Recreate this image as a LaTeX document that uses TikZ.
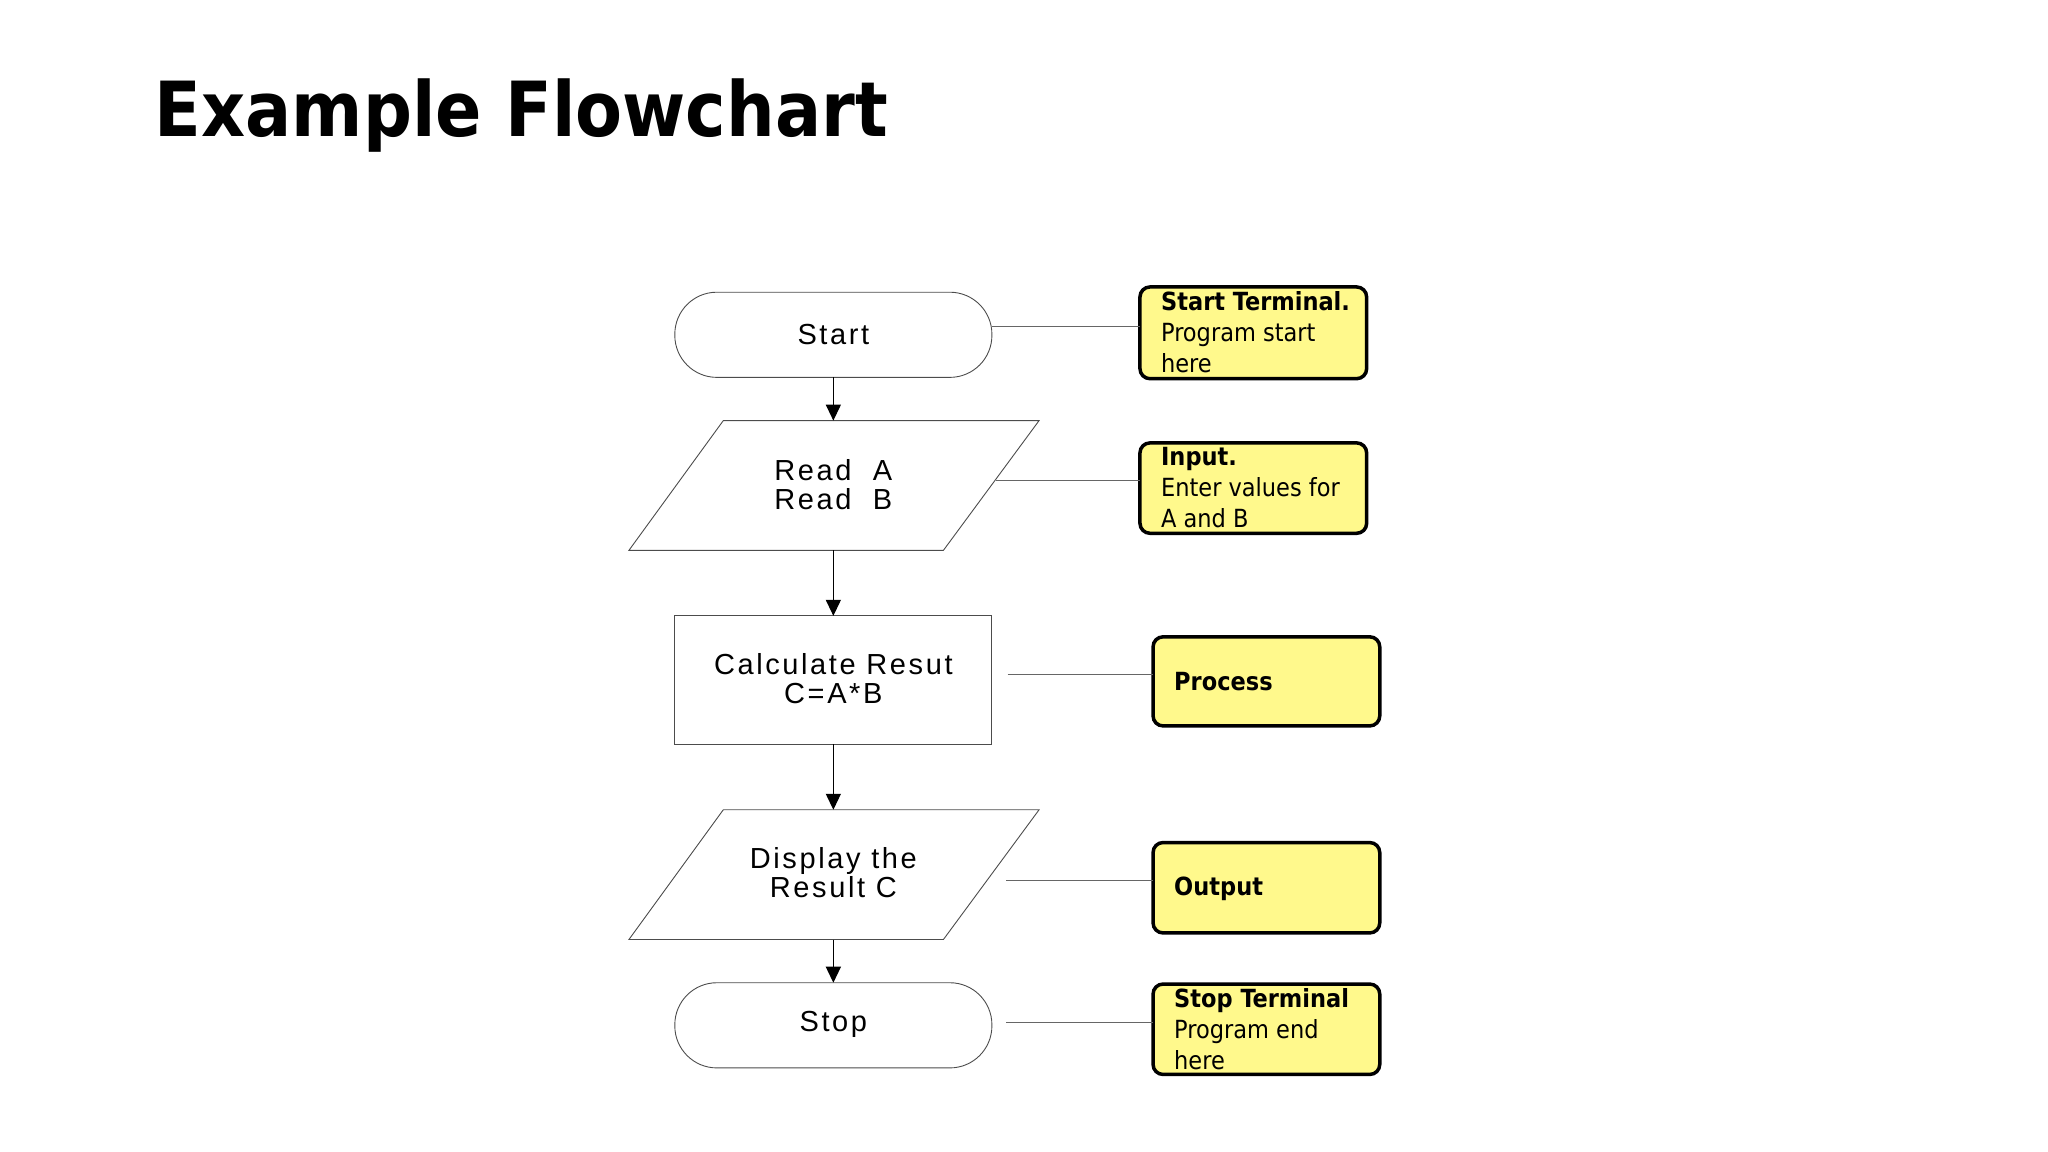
\documentclass[tikz,border=0pt]{standalone}
\usepackage{fontspec}
\setmainfont{Liberation Sans}
\newfontfamily\ffont[LetterSpace=9]{Liberation Sans}
\newfontfamily\tfont{DejaVu Sans Condensed}
\usetikzlibrary{arrows.meta}
\begin{document}
\begin{tikzpicture}[x=1.31pt,y=-1.31pt,
  shp/.style={draw=black!70,line width=0.9pt},
  lbl/.style={font=\ffont\fontsize{29}{29}\selectfont,align=center,inner sep=0pt},
  yb/.style={draw=black,line width=3.5pt,fill=yellow!45,rounded corners=10pt},
  yt/.style={font=\tfont\fontsize{25}{31}\selectfont,align=left,anchor=north west,inner sep=0pt},
  arr/.style={-{Triangle[length=16pt,width=15pt]},line width=1.3pt},
  ln/.style={draw=black!60,line width=1pt}]
\useasboundingbox (0,0) rectangle (1563,879);
\node[anchor=west,inner sep=0pt,font=\tfont\bfseries\fontsize{76}{80}\selectfont] (title) at (118,88) {Example Flowchart};
% flowchart shapes
\draw[shp,rounded corners=42pt] (515,223) rectangle (757,288);
\node[lbl] (start) at (636,255) {Start};
\coordinate (startT) at (636,288);
\draw[shp] (552,321) -- (793,321) -- (720,420) -- (480,420) -- cycle;
\node[lbl] (read) at (636,370) {Read\ \ A\\Read\ \ B};
\coordinate (readT) at (636,321); \coordinate (readB) at (636,420);
\draw[shp] (515,470) rectangle (757,568);
\node[lbl] (calc) at (636,518) {Calculate Resut\\C=A*B};
\coordinate (calcT) at (636,470); \coordinate (calcB) at (636,568);
\draw[shp] (552,618) -- (793,618) -- (720,717) -- (480,717) -- cycle;
\node[lbl] (disp) at (636,666) {Display the\\Result C};
\coordinate (dispT) at (636,618); \coordinate (dispB) at (636,717);
\draw[shp,rounded corners=42pt] (515,750) rectangle (757,815);
\node[lbl] (stop) at (636,782) {Stop};
\coordinate (stopT) at (636,750);
\draw[arr] (startT) -- (readT);
\draw[arr] (readB) -- (calcT);
\draw[arr] (calcB) -- (dispT);
\draw[arr] (dispB) -- (stopT);
% yellow notes
\draw[yb] (870,219) rectangle (1043,289);
\node[yt] (n1) at (886,222) {\textbf{Start Terminal.}\\Program start\\here};
\draw[yb] (870,338) rectangle (1043,407);
\node[yt] (n2) at (886,341) {\textbf{Input.}\\Enter values for\\A and B};
\draw[yb] (880,486) rectangle (1053,554);
\node[yt,anchor=west] (n3) at (896,520) {\textbf{Process}};
\draw[yb] (880,643) rectangle (1053,712);
\node[yt,anchor=west] (n4) at (896,678) {\textbf{Output}};
\draw[yb] (880,751) rectangle (1053,820);
\node[yt] (n5) at (896,754) {\textbf{Stop Terminal}\\Program end\\here};
% connector lines
\coordinate (a1) at (757,249); \coordinate (b1) at (870,249);
\coordinate (a2) at (760,367); \coordinate (b2) at (870,367);
\coordinate (a3) at (769,515); \coordinate (b3) at (880,515);
\coordinate (a4) at (768,672); \coordinate (b4) at (880,672);
\coordinate (a5) at (768,780); \coordinate (b5) at (880,780);
\foreach \i in {1,...,5} \draw[ln] (a\i) -- (b\i);
\end{tikzpicture}
\end{document}
